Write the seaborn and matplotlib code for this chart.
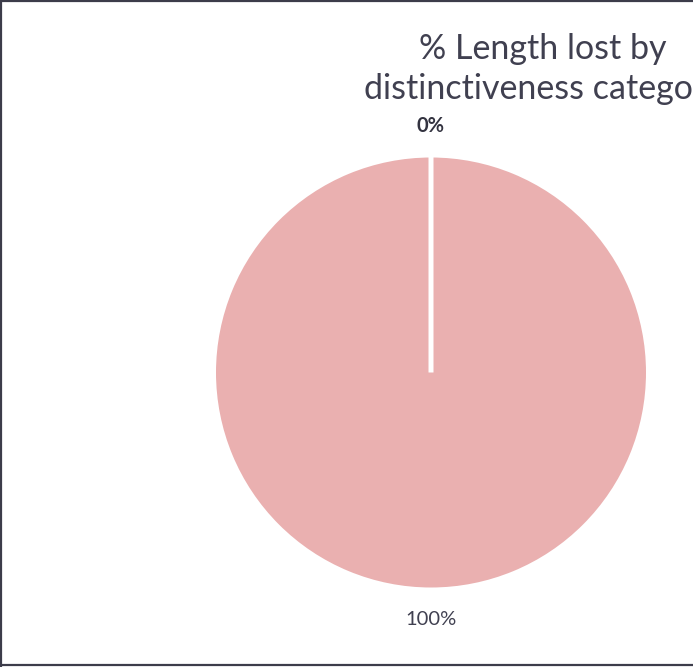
import matplotlib
matplotlib.use("Agg")
import matplotlib.pyplot as plt
import seaborn as sns
from matplotlib.lines import Line2D

sns.set_theme(style="white")
plt.rcParams['font.family'] = ['Lato', 'DejaVu Sans']

categories = ["Low distinctiveness", "Medium distinctiveness"]
values = [0.0, 100.0]
labels = ["0%", "100%"]
slice_color = "#EAB0B0"
text_color = "#404050"

W, H = 693, 667
fig = plt.figure(figsize=(W / 100, H / 100), dpi=100)
fig.patch.set_facecolor("white")

cx, cy, r = 431, 372.5, 217.5
ax = fig.add_axes([(cx - r) / W, (H - cy - r) / H, 2 * r / W, 2 * r / H])
wedges, texts = ax.pie(values, colors=["#D9D9D9", slice_color], startangle=90,
                       counterclock=False, radius=1.0,
                       wedgeprops=dict(edgecolor="white", linewidth=3.6),
                       labels=labels, labeldistance=1.135,
                       textprops=dict(fontsize=14.5, color=text_color))
wedges[0].set_zorder(5)
for t in texts:
    t.set_ha("center"); t.set_va("center")
texts[0].set_fontweight("bold")
texts[0].set_color("#333340")
ax.set_xlim(-1, 1); ax.set_ylim(-1, 1)
ax.set_aspect("equal")
ax.axis("off")

fig.text(543 / W, 1 - 69 / H, "% Length lost by\ndistinctiveness category",
         ha="center", va="center", fontsize=24.5, color=text_color, linespacing=1.33)

bc = "#3C3C4A"
fig.add_artist(Line2D([0.0015, 1], [0.998, 0.998], color=bc, lw=1.6, transform=fig.transFigure))
fig.add_artist(Line2D([0.0015, 1], [0.0025, 0.0025], color=bc, lw=1.6, transform=fig.transFigure))
fig.add_artist(Line2D([0.0015, 0.0015], [0, 1], color=bc, lw=1.6, transform=fig.transFigure))

fig.savefig("out.png", dpi=100, facecolor="white")
